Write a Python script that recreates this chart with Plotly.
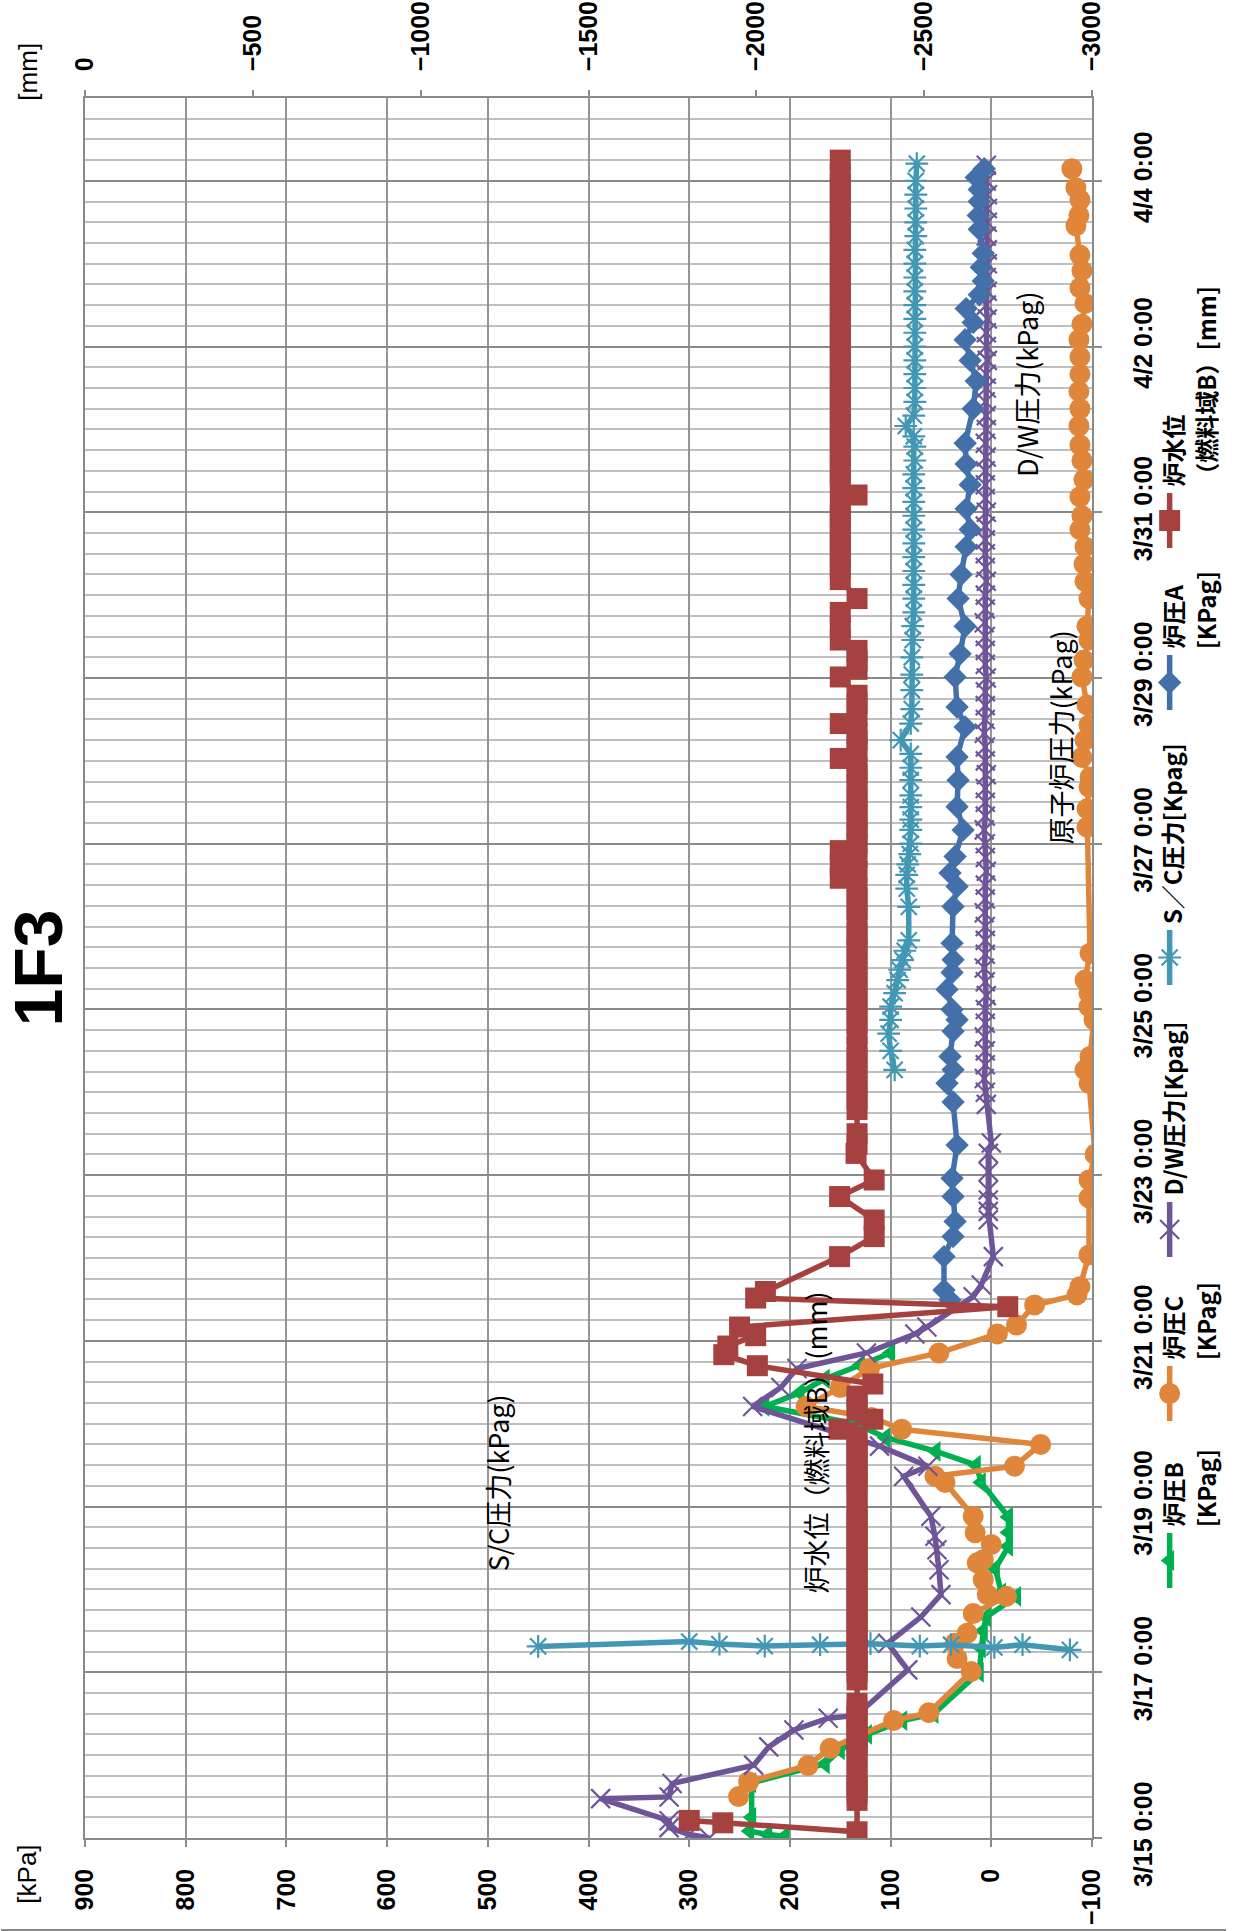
import pandas as pd
import plotly.graph_objects as go

# ---------------------------------------------------------------------------
# 1F3 plant parameters, 2011-03-15 .. 2011-04-05
# times are hours after 3/15 0:00
# ---------------------------------------------------------------------------
START = pd.Timestamp("2011-03-15 00:00")
END = pd.Timestamp("2011-04-05 00:00")

# 炉圧B [KPag]
b_hours = [0.5, 1.0, 2.0, 6.0, 16.0, 21.5, 25.5, 30.0, 34.0, 36.0, 48.0, 55.0, 60.0, 64.0,
           70.0, 71.0, 78.0, 84.5, 88.5, 93.0, 103.0, 108.0, 112.0, 116.0, 120.0, 125.0,
           129.0, 133.0, 137.0, 140.5]
b_kpa = [205, 222, 240, 238, 238, 165, 150, 123, 88, 57, 12, 10, 8, 5,
         -25, -10, -4, -17, -17, -17, 10, 15, 55, 105, 135, 225,
         190, 165, 130, 100]

# 炉圧C [KPag]
c_hours = [12, 16.3, 21, 26, 34, 36.3, 48.2, 52, 56.4, 59.3, 65, 70, 70.5, 74.8, 79.7, 80.6,
           85, 88.4, 93.2, 103, 104.8, 107.7, 114, 118.4, 121.8, 125, 130.5, 136, 140.5, 146,
           148.6, 154.4, 157.3, 159.7, 168.9, 185.4, 190.6, 198, 218.6, 222.5, 226.4, 237,
           240.8, 244.7, 248.5, 256.3, 292.8, 298.1, 304.4, 307.3, 313, 318, 322.4, 328.2,
           336.3, 341.2, 347, 351, 359, 364, 369, 374, 379, 383, 388.5, 393.5, 399, 403.5,
           409, 414, 419, 424, 429, 434, 438.5, 444.5, 449, 454, 458.5, 467, 470, 474.5,
           478, 483.5]
c_kpa = [251, 241, 182, 160, 97, 62, 20, 34, 36, 24, 18, -15, 4, 8, 14, 8,
         0, 16, 18, 46, 56, -23, -49, 89, 119, 184, 150, 121, 52, -6,
         -25, -43, -85, -88, -97, -97, -97, -103, -97, -93, -98, -102,
         -97, -97, -93, -98, -95, -95, -97, -98, -90, -93, -97, -95,
         -90, -92, -97, -95, -97, -93, -92, -93, -88, -90, -88, -92, -90, -88,
         -87, -88, -87, -88, -88, -87, -90, -93, -88, -90, -88, -84, -87, -88,
         -84, -80]

# D/W圧力 [Kpag]
dw_hours = [0, 1, 3, 5, 11.4, 11.9, 15.8, 21.1, 26.4, 31.3, 34.7, 35.5, 48.7, 56.4, 64,
            70.5, 77.7, 83.5, 87.4, 93.2, 104.8, 107.7, 113.5, 125, 130.5, 136, 140.5,
            146, 148, 156.8, 160.2, 168.4, 179.1, 181.5, 184.8, 187.7, 193, 198.3, 201.3,
            212.5, 216, 220, 224, 228, 232, 236, 240, 244, 248, 252, 256, 260, 264, 268,
            272, 276, 280, 284, 288, 292, 296, 300, 304, 308, 312, 316, 320, 324, 328,
            332, 336, 340, 344, 348, 352, 356, 360, 364, 368, 372, 376, 380, 384, 388,
            392, 396, 400, 404, 408, 412, 416, 420, 424, 428, 432, 436, 440, 444, 448,
            452, 456, 460, 464, 468, 472, 476, 480, 484.5]
dw_kpa = [280, 300, 320, 320, 388, 320, 317, 236, 221, 196, 162, 134, 83, 103, 70,
          50, 52, 54, 56, 60, 87, 63, 111, 237, 209, 193, 124,
          76, 64, 18, 10, -2, 3, 3, 3, 3, 3, 3, 0,
          5, 6, 7, 6, 6, 7, 6, 6, 5, 6, 7, 6, 6, 6, 7,
          6, 6, 5, 6, 6, 7, 6, 6, 6, 5, 6, 6, 7, 6, 6,
          6, 5, 6, 6, 6, 7, 6, 6, 5, 6, 6, 6, 6, 5, 6,
          6, 6, 5, 6, 5, 5, 6, 5, 5, 4, 5, 5, 4, 5, 4,
          5, 4, 4, 5, 4, 4, 4, 5, 5]

# S／C圧力 [Kpag]  (None breaks the line between the 3/17 burst and 3/24)
sc_hours = [55.5, 56.9, 56.2, 55.6, 56.0, 56.3, 55.6, 56.0, 55.2, 56.0, 54.5, None,
            222.5, 228, 233, 237, 240.8, 244.7, 248.5, 251.5, 254.3, 257, 260, 269.7,
            275, 279, 282, 285, 288, 292, 295, 298.6, 302, 306.4, 310, 314, 318, 322.8,
            327, 332.5, 337, 342, 347, 351, 355, 359, 363, 367, 371, 375, 379, 383, 387,
            391, 395, 399, 403, 406, 409, 412, 416, 420, 424, 428, 432, 436, 440, 444,
            448, 452, 456, 460, 464, 468, 472, 476, 480, 485]
sc_kpa = [450, 300, 270, 225, 170, 120, 71, 40, -3, -31, -78, None,
          96, 100, 102, 100, 100, 96, 93, 91, 88, 86, 82, 82,
          84, 84, 83, 81, 80, 80, 80, 80, 80, 80, 80, 80, 90, 80,
          79, 79, 79, 79, 78, 78, 77, 77, 77, 77, 77, 77, 77, 77, 77,
          77, 77, 76, 76, 77, 85, 77, 76, 76, 76, 76, 76, 76, 76, 76,
          76, 76, 76, 76, 75, 75, 75, 75, 75, 74]

# 炉圧A [KPag]
a_hours = [155.8, 158.7, 168.4, 174.2, 178.6, 185.8, 191.1, 200.7, 213.2, 218.6, 222.5,
           226.4, 233.7, 237, 240, 245.8, 250.7, 254.4, 259.2, 269.8, 275.6, 279.5, 284.3,
           292, 298.7, 306.4, 313.1, 321.8, 327.6, 336.3, 343, 351, 359, 366, 374, 379,
           385, 392, 398, 404, 414, 422, 428, 434, 439, 443, 447, 451, 455, 459, 466, 470,
           474, 477.5, 481, 483.5]
a_kpa = [41, 47, 47, 38, 36, 38, 39, 34, 38, 44, 38,
         41, 38, 34, 39, 44, 39, 38, 39, 38, 34, 41, 36,
         28, 34, 33, 34, 26, 34, 36, 31, 26, 33, 30, 25, 21,
         25, 21, 25, 26, 18, 15, 21, 26, 18, 25, 12, 8, 10, 8, 12, 13,
         12, 12, 15, 7]

# 炉水位（燃料域B）[mm]
w_hours = [5.1, 4.4, 1.8, 10.9, 13, 15, 17, 19, 23, 25, 27, 29, 31, 33, 35, 37, 39,
           45.8, 48, 50, 52, 54, 56, 58, 60, 62, 64, 66, 68, 70, 72, 74, 76, 78, 80, 82,
           84, 86, 88, 90, 92, 94, 96, 100, 102, 104, 106, 108, 110, 112, 114, 116,
           118.4, 121.3, 124, 126, 128, 131.5, 136.8, 140, 142.5, 145.5, 148, 153.9,
           156.4, 158.3, 168.4, 174.2, 179, 185.8, 190.6, 198.3, 201, 204, 211, 214, 217,
           220, 223, 226, 229, 233, 236, 239, 242, 245, 248, 251, 254, 257, 260, 262,
           266, 269, 272, 275, 278, 280, 282, 284, 286, 288, 290.5, 293, 296, 299,
           301.5, 305, 308, 310, 312.7, 315, 318, 320, 322.8, 325, 328.7, 331, 336.3,
           338.5, 341, 344, 347, 351, 355, 359, 364.5, 368, 371, 374, 377, 380, 383,
           386, 389, 392, 395, 398, 401, 404, 407, 410, 413, 416, 419, 422, 425, 428,
           431, 434, 437, 440, 443, 446, 449, 452, 455, 458, 461, 464, 467, 470, 473,
           476, 479, 482, 486]
w_mm = [-1800, -1900, -2300, -2300, -2300, -2300, -2300, -2300, -2300, -2300, -2300,
        -2300, -2300, -2300, -2300, -2300, -2300,
        -2300, -2300, -2300, -2300, -2300, -2300, -2300, -2300, -2300, -2300, -2300,
        -2300, -2300, -2300, -2300, -2300, -2300, -2300, -2300,
        -2300, -2300, -2300, -2300, -2300, -2300, -2300, -2300, -2300, -2300, -2300,
        -2300, -2300, -2300, -2300, -2300,
        -2246, -2347, -2300, -2300, -2300, -2347, -2003, -1903, -1915, -1998, -1950,
        -2749, -1998, -2027, -2248, -2351, -2351, -2248, -2351, -2297, -2300, -2300,
        -2300, -2300, -2300,
        -2300, -2300, -2300, -2300, -2300, -2300, -2300, -2300, -2300, -2300, -2300,
        -2300, -2300, -2300, -2300,
        -2300, -2300, -2300, -2300, -2250, -2300, -2250, -2300, -2250, -2300, -2300,
        -2300, -2300, -2300,
        -2300, -2300, -2300, -2300, -2250, -2300, -2300, -2300, -2250, -2300, -2300,
        -2300, -2250,
        -2300, -2300, -2300, -2250, -2250, -2250, -2300, -2250, -2250, -2250, -2250,
        -2250, -2250, -2250,
        -2250, -2300, -2250, -2250, -2250, -2250, -2250, -2250, -2250, -2250, -2250,
        -2250, -2250, -2250, -2250,
        -2250, -2250, -2250, -2250, -2250, -2250, -2250, -2250, -2250, -2250, -2250,
        -2250, -2250, -2250, -2250,
        -2250, -2250, -2250, -2250]

# axis ranges
KPA_RANGE = [900, -100]
MM_RANGE = [0, -3000]

# series styling: name, colour, marker symbol, marker size
STYLE = {
    "B": ("炉圧B", "#00B050", "triangle-left", 18),
    "C": ("炉圧C", "#E0863A", "circle", 21),
    "DW": ("D/W圧力", "#6E5598", "x-thin-open", 19),
    "SC": ("S／C圧力", "#4298B4", "asterisk-open", 19),
    "A": ("炉圧A", "#4470AA", "diamond", 18),
    "W": ("炉水位", "#A5413F", "square", 21),
}
LINE_W = 5.5


def to_time(hours):
    return [None if h is None else START + pd.Timedelta(hours=h) for h in hours]


for hs, vs in [(b_hours, b_kpa), (c_hours, c_kpa), (dw_hours, dw_kpa),
               (sc_hours, sc_kpa), (a_hours, a_kpa), (w_hours, w_mm)]:
    assert len(hs) == len(vs), (len(hs), len(vs))

# ---------------------------------------------------------------------------
# page geometry (the chart is drawn lying on its side: time runs upward)
# ---------------------------------------------------------------------------
W, H = 1239, 1931
ML, MR, MT, MB = 85, 0, 98, 93
PW = W - ML - MR
PH = H - MT - MB
PLOT_RIGHT = 1103.5
X_DOM = [0, (PLOT_RIGHT - ML) / PW]

GRID_V = "#959595"
GRID_MAJ = "#8a8a8a"
GRID_MIN = "#bfbfbf"
AXIS_COL = "#8a8a8a"

TICK_FONT = dict(family="Liberation Sans, Arial, sans-serif", size=25, color="black",
                 weight="bold")
JP = "Noto Sans CJK JP, sans-serif"

fig = go.Figure()


def add_series(key, hours, values, xaxis="x"):
    name, col, sym, size = STYLE[key]
    open_sym = sym.endswith("open")
    fig.add_trace(go.Scatter(
        x=values, y=to_time(hours), mode="lines+markers", name=name,
        xaxis=xaxis, yaxis="y",
        line=dict(color=col, width=LINE_W),
        marker=dict(symbol=sym, size=size, color=col,
                    line=dict(color=col, width=2.2 if open_sym else 0)),
        connectgaps=False, showlegend=False, hoverinfo="skip",
    ))


add_series("B", b_hours, b_kpa)
add_series("C", c_hours, c_kpa)
add_series("DW", dw_hours, dw_kpa)
add_series("SC", sc_hours, sc_kpa)
add_series("A", a_hours, a_kpa)
add_series("W", w_hours, w_mm, xaxis="x2")

# ---------------------------------------------------------------------------
# legend strip on the right (drawn on a pixel-scaled helper axis)
# ---------------------------------------------------------------------------
LEG_KEYS = ["B", "C", "DW", "SC", "A", "W"]
LEG_LINE1 = ["炉圧B", "炉圧C", "D/W圧力[Kpag]", "S／C圧力[Kpag]", "炉圧A", "炉水位"]
LEG_LINE2 = ["[KPag]", "[KPag]", "", "", "[KPag]", "（燃料域B）[mm]"]
LEG_START = [1588, 1421, 1257, 985, 710, 548]
LEG_LEN = 55
LEG_X = 1182
LEG_TX1 = 1184
LEG_TX2 = 1218

annotations = []
for key, t1, t2, y0 in zip(LEG_KEYS, LEG_LINE1, LEG_LINE2, LEG_START):
    _, col, sym, size = STYLE[key]
    open_sym = sym.endswith("open")
    fig.add_trace(go.Scatter(
        x=[LEG_X, LEG_X], y=[y0, y0 - LEG_LEN], mode="lines", xaxis="x3", yaxis="y3",
        line=dict(color=col, width=LINE_W), showlegend=False, hoverinfo="skip"))
    fig.add_trace(go.Scatter(
        x=[LEG_X], y=[y0 - LEG_LEN / 2], mode="markers", xaxis="x3", yaxis="y3",
        marker=dict(symbol=sym, size=size, color=col,
                    line=dict(color=col, width=2.2 if open_sym else 0)),
        showlegend=False, hoverinfo="skip"))
    annotations.append(dict(
        x=LEG_TX1, y=y0 - LEG_LEN - 4, xref="x3", yref="y3", text=t1, textangle=-90,
        showarrow=False, xanchor="center", yanchor="bottom",
        font=dict(family=JP, size=24, color="black", weight="bold")))
    if t2:
        annotations.append(dict(
            x=LEG_TX2, y=y0 - LEG_LEN - 4, xref="x3", yref="y3", text=t2, textangle=-90,
            showarrow=False, xanchor="center", yanchor="bottom",
            font=dict(family=JP, size=24, color="black", weight="bold")))

# ---------------------------------------------------------------------------
# in-plot labels
# ---------------------------------------------------------------------------
LABELS = [
    ("S/C圧力(kPag)", 490, 103.0),
    ("炉水位（燃料域B）(mm)", 175, 114.6),
    ("原子炉圧力(kPag)", -69, 318.7),
    ("D/W圧力(kPag)", -35, 421.0),
]
for text, xv, hv in LABELS:
    annotations.append(dict(
        x=xv, y=START + pd.Timedelta(hours=hv), xref="x", yref="y", text=text,
        textangle=-90, showarrow=False, xanchor="center", yanchor="middle",
        font=dict(family=JP, size=27, color="black")))

# title and unit captions
annotations.append(dict(
    x=(37 - ML) / PW, y=(H - MB - 968) / PH, xref="paper", yref="paper", text="1F3",
    textangle=-90, showarrow=False, xanchor="center", yanchor="middle",
    font=dict(family="Liberation Sans, Arial, sans-serif", size=68, color="black",
              weight="bold")))
annotations.append(dict(
    x=(26 - ML) / PW, y=(H - MB - 1874) / PH, xref="paper", yref="paper", text="[kPa]",
    textangle=-90, showarrow=False, xanchor="center", yanchor="middle",
    font=dict(family="Liberation Sans, Arial, sans-serif", size=26, color="black")))
annotations.append(dict(
    x=(27 - ML) / PW, y=(H - MB - 72) / PH, xref="paper", yref="paper", text="[mm]",
    textangle=-90, showarrow=False, xanchor="center", yanchor="middle",
    font=dict(family="Liberation Sans, Arial, sans-serif", size=26, color="black")))

shapes = [dict(type="line", xref="paper", yref="paper",
               x0=-ML / PW, x1=1, y0=-(1930 - (H - MB)) / PH, y1=-(1930 - (H - MB)) / PH,
               line=dict(color="#8a8a8a", width=2))]

fig.update_layout(
    width=W, height=H,
    margin=dict(l=ML, r=MR, t=MT, b=MB, pad=0),
    paper_bgcolor="white", plot_bgcolor="white",
    showlegend=False,
    annotations=annotations,
    shapes=shapes,
    xaxis=dict(
        domain=X_DOM, range=KPA_RANGE, tick0=0, dtick=100, anchor="y", side="bottom",
        showgrid=True, gridcolor=GRID_V, gridwidth=1.6, zeroline=False,
        showline=True, linecolor=AXIS_COL, linewidth=1.6, mirror=True,
        ticks="outside", ticklen=7, tickwidth=1.6, tickcolor=AXIS_COL,
        tickangle=-90, tickfont=TICK_FONT, ticklabelstandoff=12,
    ),
    xaxis2=dict(
        overlaying="x", range=MM_RANGE, tick0=0, dtick=500, anchor="y", side="top",
        showgrid=False, zeroline=False,
        showline=True, linecolor=AXIS_COL, linewidth=1.6,
        ticks="outside", ticklen=6, tickwidth=1.6, tickcolor=AXIS_COL,
        tickangle=-90, tickfont=TICK_FONT, ticklabelstandoff=14,
    ),
    yaxis=dict(
        type="date", range=[START, END], tick0=START, dtick=2 * 86400000,
        tickformat="%-m/%-d %-H:%M", anchor="x", side="right",
        showgrid=True, gridcolor=GRID_MAJ, gridwidth=1.6, zeroline=False,
        showline=True, linecolor=AXIS_COL, linewidth=1.6, mirror=True,
        ticks="outside", ticklen=8, tickwidth=1.6, tickcolor=AXIS_COL,
        tickangle=-90, tickfont=TICK_FONT, ticklabelstandoff=20,
        minor=dict(tick0=START, dtick=6 * 3600000, showgrid=True,
                   gridcolor=GRID_MIN, gridwidth=1.8, ticks=""),
    ),
    xaxis3=dict(domain=[(1150 - ML) / PW, 1], range=[1150, W], anchor="y3",
                visible=False, fixedrange=True),
    yaxis3=dict(domain=[0, 1], range=[H - MB, MT], anchor="x3",
                visible=False, fixedrange=True),
)

fig.write_html("out.html")
